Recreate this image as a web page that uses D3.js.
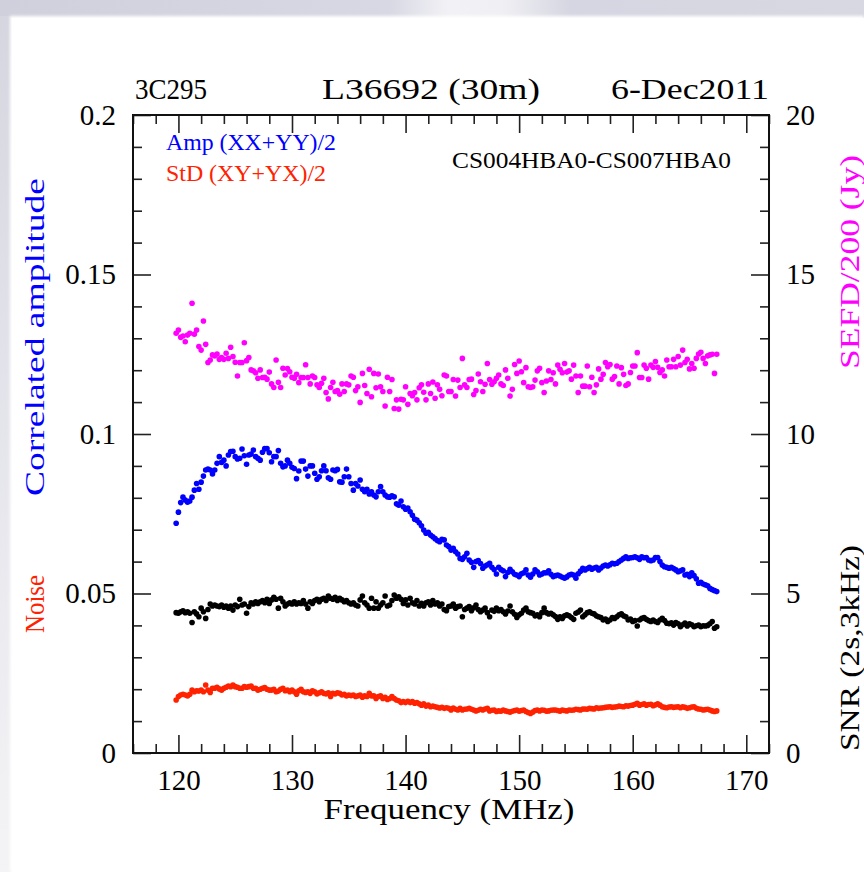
<!DOCTYPE html>
<html>
<head>
<meta charset="utf-8">
<script src="https://cdn.jsdelivr.net/npm/d3@7"></script>
<style>
  body { margin: 0; background: #fff; }
  svg { display: block; }
</style>
</head>
<body>
<svg id="chart" width="864" height="872"></svg>
<script>
// Channel centre frequencies (MHz)
const freqMHz = [
  119.8,120.0,120.2,120.4,120.6,120.8,121.0,121.2,121.4,121.6,
  121.8,122.0,122.2,122.4,122.6,122.8,123.0,123.2,123.4,123.6,
  123.8,124.0,124.2,124.4,124.6,124.8,125.0,125.2,125.4,125.6,
  125.8,126.0,126.2,126.4,126.6,126.8,127.0,127.2,127.4,127.6,
  127.8,128.0,128.2,128.4,128.6,128.8,129.0,129.2,129.4,129.6,
  129.8,130.0,130.2,130.4,130.6,130.8,131.0,131.2,131.4,131.6,
  131.8,132.0,132.2,132.4,132.6,132.8,133.0,133.2,133.4,133.6,
  133.8,134.0,134.2,134.4,134.6,134.8,135.0,135.2,135.4,135.6,
  135.8,136.0,136.2,136.4,136.6,136.8,137.0,137.2,137.4,137.6,
  137.8,138.0,138.2,138.4,138.6,138.8,139.0,139.2,139.4,139.6,
  139.8,140.0,140.2,140.4,140.6,140.8,141.0,141.2,141.4,141.6,
  141.8,142.0,142.2,142.4,142.6,142.8,143.0,143.2,143.4,143.6,
  143.8,144.0,144.2,144.4,144.6,144.8,145.0,145.2,145.4,145.6,
  145.8,146.0,146.2,146.4,146.6,146.8,147.0,147.2,147.4,147.6,
  147.8,148.0,148.2,148.4,148.6,148.8,149.0,149.2,149.4,149.6,
  149.8,150.0,150.2,150.4,150.6,150.8,151.0,151.2,151.4,151.6,
  151.8,152.0,152.2,152.4,152.6,152.8,153.0,153.2,153.4,153.6,
  153.8,154.0,154.2,154.4,154.6,154.8,155.0,155.2,155.4,155.6,
  155.8,156.0,156.2,156.4,156.6,156.8,157.0,157.2,157.4,157.6,
  157.8,158.0,158.2,158.4,158.6,158.8,159.0,159.2,159.4,159.6,
  159.8,160.0,160.2,160.4,160.6,160.8,161.0,161.2,161.4,161.6,
  161.8,162.0,162.2,162.4,162.6,162.8,163.0,163.2,163.4,163.6,
  163.8,164.0,164.2,164.4,164.6,164.8,165.0,165.2,165.4,165.6,
  165.8,166.0,166.2,166.4,166.6,166.8,167.0,167.2,167.4
];

// Correlated amplitude, (XX+YY)/2  (left axis)
const ampXXYY = [
  0.0720,0.0755,0.0785,0.0802,0.0793,0.0786,0.0790,0.0802,0.0824,0.0845,
  0.0827,0.0849,0.0868,0.0887,0.0890,0.0887,0.0875,0.0887,0.0908,0.0929,
  0.0911,0.0918,0.0900,0.0934,0.0945,0.0946,0.0929,0.0922,0.0924,0.0953,
  0.0932,0.0905,0.0934,0.0937,0.0950,0.0929,0.0924,0.0918,0.0943,0.0954,
  0.0954,0.0941,0.0913,0.0929,0.0929,0.0948,0.0908,0.0897,0.0900,0.0918,
  0.0908,0.0896,0.0892,0.0860,0.0884,0.0915,0.0915,0.0890,0.0868,0.0900,
  0.0900,0.0877,0.0858,0.0866,0.0885,0.0900,0.0885,0.0863,0.0858,0.0887,
  0.0885,0.0889,0.0850,0.0849,0.0866,0.0890,0.0866,0.0845,0.0824,0.0845,
  0.0837,0.0856,0.0827,0.0819,0.0827,0.0812,0.0819,0.0809,0.0803,0.0819,
  0.0835,0.0819,0.0809,0.0803,0.0802,0.0806,0.0803,
  0.0781,0.0777,0.0790,0.0772,0.0764,0.0768,0.0756,0.0745,0.0733,0.0730,
  0.0722,0.0712,0.0699,0.0689,0.0692,0.0683,0.0678,0.0672,0.0666,0.0662,
  0.0670,0.0668,0.0652,0.0647,0.0636,0.0642,0.0631,0.0624,0.0610,0.0607,
  0.0615,0.0626,0.0605,0.0598,0.0582,0.0600,0.0603,0.0594,0.0579,0.0586,
  0.0590,0.0595,0.0582,0.0575,0.0561,0.0582,0.0575,0.0571,0.0553,0.0566,
  0.0576,0.0568,0.0560,0.0558,0.0553,0.0562,0.0565,0.0574,0.0558,0.0551,
  0.0561,0.0574,0.0568,0.0558,0.0561,0.0565,0.0565,0.0571,0.0560,0.0553,
  0.0556,0.0558,0.0555,0.0551,0.0548,0.0552,0.0558,0.0560,0.0558,0.0548,
  0.0562,0.0570,0.0579,0.0574,0.0578,0.0582,0.0576,0.0580,0.0582,0.0574,
  0.0580,0.0586,0.0589,0.0586,0.0590,0.0595,0.0593,0.0595,0.0600,0.0605,
  0.0610,0.0615,0.0610,0.0612,0.0613,0.0615,0.0612,0.0607,0.0615,0.0612,
  0.0613,0.0605,0.0603,0.0605,0.0613,0.0613,0.0600,0.0589,0.0584,0.0582,
  0.0579,0.0582,0.0578,0.0574,0.0568,0.0571,0.0574,0.0558,0.0560,0.0553,
  0.0565,0.0556,0.0546,0.0532,0.0535,0.0530,0.0527,0.0524,0.0516,0.0512,
  0.0509,0.0506
];

// Noise: standard deviation of the cross hands, (XY+YX)/2  (left axis)
const stdXYYX = [
  0.0166,0.0177,0.0182,0.0184,0.0182,0.0179,0.0184,0.0197,0.0192,0.0195,
  0.0194,0.0197,0.0192,0.0213,0.0197,0.0190,0.0203,0.0203,0.0206,0.0201,
  0.0197,0.0203,0.0206,0.0210,0.0208,0.0213,0.0208,0.0206,0.0203,0.0203,
  0.0208,0.0206,0.0208,0.0210,0.0203,0.0203,0.0197,0.0200,0.0203,0.0205,
  0.0200,0.0197,0.0197,0.0200,0.0192,0.0194,0.0200,0.0203,0.0195,0.0197,
  0.0192,0.0197,0.0192,0.0184,0.0195,0.0200,0.0192,0.0190,0.0192,0.0187,
  0.0195,0.0192,0.0185,0.0189,0.0192,0.0187,0.0185,0.0189,0.0177,0.0187,
  0.0185,0.0189,0.0187,0.0182,0.0184,0.0179,0.0182,0.0180,0.0182,0.0177,
  0.0179,0.0182,0.0175,0.0179,0.0177,0.0187,0.0179,0.0179,0.0171,0.0177,
  0.0179,0.0171,0.0175,0.0168,0.0171,0.0177,0.0171,0.0166,0.0164,0.0158,
  0.0161,0.0158,0.0162,0.0158,0.0161,0.0156,0.0158,0.0154,0.0150,0.0154,
  0.0147,0.0150,0.0145,0.0147,0.0145,0.0143,0.0141,0.0143,0.0140,0.0142,
  0.0140,0.0135,0.0141,0.0137,0.0135,
  0.0140,0.0135,0.0137,0.0138,0.0140,0.0137,0.0135,0.0132,0.0134,0.0137,
  0.0135,0.0138,0.0140,0.0132,0.0134,0.0135,0.0130,0.0132,0.0131,0.0135,
  0.0132,0.0130,0.0128,0.0131,0.0133,0.0135,0.0131,0.0133,0.0135,0.0130,
  0.0127,0.0124,0.0128,0.0133,0.0135,0.0132,0.0135,0.0134,0.0131,0.0132,
  0.0134,0.0135,0.0135,0.0133,0.0131,0.0135,0.0133,0.0132,0.0135,0.0134,
  0.0135,0.0137,0.0136,0.0135,0.0138,0.0138,0.0137,0.0140,0.0139,0.0138,
  0.0142,0.0140,0.0141,0.0142,0.0143,0.0144,0.0145,0.0143,0.0144,0.0145,
  0.0147,0.0146,0.0145,0.0148,0.0147,0.0149,0.0150,0.0153,0.0156,0.0150,
  0.0152,0.0154,0.0150,0.0152,0.0153,0.0148,0.0151,0.0154,0.0150,0.0145,
  0.0143,0.0142,0.0144,0.0145,0.0143,0.0144,0.0145,0.0142,0.0145,0.0143,
  0.0140,0.0142,0.0144,0.0145,0.0140,0.0138,0.0137,0.0135,0.0136,0.0137,
  0.0135,0.0132,0.0130,0.0132
];

// SNR per 2 s, 3 kHz channel  (right axis)
const snr = [
  4.40,4.38,4.43,4.46,4.40,4.43,4.38,4.09,4.43,4.36,
  4.27,4.54,4.43,4.22,4.50,4.67,4.61,4.64,4.61,4.59,
  4.64,4.57,4.61,4.54,4.61,4.48,4.64,4.59,4.82,4.64,
  4.67,4.38,4.59,4.71,4.67,4.74,4.69,4.74,4.78,4.71,
  4.82,4.69,4.80,4.88,4.82,4.54,4.85,4.74,4.61,4.67,
  4.71,4.67,4.74,4.67,4.71,4.69,4.78,4.67,4.54,4.74,
  4.69,4.78,4.82,4.74,4.82,4.85,4.78,4.92,4.85,4.82,
  4.88,4.78,4.85,4.80,4.74,4.78,4.71,4.67,4.71,4.64,
  4.61,4.80,4.92,4.71,4.64,4.54,4.85,4.54,4.74,4.54,
  4.64,4.71,4.92,4.61,4.64,4.78,4.95,4.85,4.90,4.82,
  4.69,4.80,4.64,4.85,4.71,4.67,4.78,4.61,4.69,4.61,
  4.71,4.74,4.64,4.78,4.67,4.71,4.61,4.67,4.50,4.46,
  4.59,4.61,4.67,4.54,4.59,
  4.61,4.27,4.50,4.54,4.59,4.46,4.55,4.64,4.50,4.43,
  4.48,4.54,4.40,4.27,4.48,4.44,4.54,4.46,4.50,4.43,
  4.36,4.45,4.61,4.43,4.35,4.25,4.33,4.38,4.48,4.54,
  4.43,4.40,4.38,4.30,4.33,4.27,4.40,4.54,4.40,4.36,
  4.38,4.33,4.28,4.19,4.27,4.22,4.30,4.33,4.30,4.25,
  4.19,4.38,4.42,4.48,4.27,4.33,4.40,4.43,4.38,4.36,
  4.30,4.27,4.25,4.17,4.20,4.12,4.17,4.25,4.22,4.27,
  4.33,4.36,4.30,4.27,4.17,4.20,4.12,4.15,3.98,4.17,
  4.22,4.25,4.19,4.15,4.12,4.17,4.12,4.09,4.17,4.22,
  4.15,4.07,4.05,4.08,4.01,4.09,4.05,3.96,4.02,4.07,
  3.98,4.05,4.02,3.96,3.99,4.01,3.96,3.99,3.98,4.00,
  4.05,4.12,3.91,3.96
];

// System equivalent flux density / 200, in Jy  (right axis)
const sefd200 = [
  13.16,13.26,13.03,13.07,12.89,13.10,13.16,14.10,13.13,13.26,
  12.74,12.63,13.54,12.81,12.24,12.32,12.48,12.45,12.51,12.34,
  12.40,12.34,12.53,12.37,12.72,12.43,12.25,11.82,12.24,12.24,
  12.86,12.30,12.40,12.01,11.98,11.92,11.75,12.01,11.77,11.78,
  11.72,11.94,11.57,11.46,12.32,11.62,11.46,12.06,11.85,12.05,
  11.95,11.78,11.75,11.87,11.61,11.77,11.77,12.17,11.77,11.57,
  11.82,11.77,11.54,11.46,11.59,11.75,11.30,11.10,11.46,11.62,
  11.33,11.36,11.25,11.57,11.33,11.57,11.54,11.82,11.78,11.36,
  11.48,10.99,11.90,11.52,11.27,12.03,11.17,11.90,11.45,11.88,
  11.48,11.33,10.88,11.78,11.33,11.71,10.80,11.07,10.78,11.09,
  11.07,11.48,10.93,11.27,11.20,11.30,11.07,11.45,11.54,11.31,
  11.07,11.57,11.27,11.63,11.12,11.54,11.40,11.20,11.85,11.82,
  11.33,11.33,11.71,11.19,11.69,
  11.46,12.37,11.54,11.46,11.71,11.72,11.24,11.36,11.88,11.64,
  11.33,11.56,12.21,11.71,11.56,11.64,11.75,11.85,11.57,11.52,
  12.01,11.75,11.19,11.40,12.18,11.90,12.29,11.95,11.61,12.08,
  11.48,11.46,11.48,11.69,11.98,12.06,11.61,11.30,11.66,11.98,
  11.71,11.92,11.57,12.16,12.03,11.92,12.21,11.94,11.98,11.72,
  12.16,11.82,11.30,11.82,11.50,11.50,12.13,11.48,11.78,11.30,
  11.54,12.04,11.72,11.87,12.24,12.11,12.18,11.72,11.80,12.13,
  11.57,12.08,11.87,11.52,11.57,11.93,12.13,12.13,12.55,11.77,
  11.77,12.16,12.06,11.72,12.16,12.09,12.27,12.09,11.93,12.01,
  11.82,12.32,12.11,12.11,12.34,12.11,12.43,12.16,12.63,12.24,
  12.34,12.04,12.21,12.06,12.37,12.51,12.56,12.37,12.21,12.45,
  12.48,12.50,11.90,12.50
];

// Axis ticks and labels
const xMajorTicks = [120, 130, 140, 150, 160, 170];
const yLeftTicks = [0, 0.05, 0.1, 0.15, 0.2];
const yLeftTickLabels = ["0", "0.05", "0.1", "0.15", "0.2"];
const yRightTicks = [0, 5, 10, 15, 20];
const yRightTickLabels = ["0", "5", "10", "15", "20"];

const COLORS = { amp: "#0000ff", noise: "#ff2200", snr: "#000000", sefd: "#ff00ff" };
const SERIF = "'Liberation Serif', 'DejaVu Serif', serif";

const W = 864, H = 872;
const plot = { left: 133, right: 769, top: 115, bottom: 753 };

const svg = d3.select("#chart");
const defs = svg.append("defs");

// Slide backdrop behind the white plot panel
const bgGrad = defs.append("linearGradient").attr("id", "bgGrad")
  .attr("x1", 0).attr("y1", 0).attr("x2", 1).attr("y2", 0);
[["0", "#d0d0dc"], ["0.45", "#d8d8e4"], ["0.52", "#f2f2f6"], ["0.58", "#f0f0f4"], ["0.66", "#d6d6e2"], ["1", "#d8d8e2"]]
  .forEach(([o, c]) => bgGrad.append("stop").attr("offset", o).attr("stop-color", c));
const sideGrad = defs.append("linearGradient").attr("id", "sideGrad")
  .attr("x1", 0).attr("y1", 0).attr("x2", 0).attr("y2", 1);
[["0", "#d6d6e0"], ["0.4", "#e2e2ea"], ["1", "#f4f4f6"]]
  .forEach(([o, c]) => sideGrad.append("stop").attr("offset", o).attr("stop-color", c));
defs.append("filter").attr("id", "soft").append("feGaussianBlur").attr("stdDeviation", 1.5);

svg.append("rect").attr("width", W).attr("height", H).attr("fill", "url(#bgGrad)");
svg.append("rect").attr("x", 0).attr("y", 16).attr("width", 12).attr("height", H - 16).attr("fill", "url(#sideGrad)");
svg.append("rect").attr("x", 10).attr("y", 16).attr("width", W - 10).attr("height", H - 16)
  .attr("fill", "#ffffff").attr("filter", "url(#soft)");
svg.append("rect").attr("x", 12).attr("y", 18).attr("width", W - 12).attr("height", H - 18).attr("fill", "#ffffff");

// Scales
const x = d3.scaleLinear().domain([116, 172]).range([plot.left, plot.right]);
const yL = d3.scaleLinear().domain([0, 0.2]).range([plot.bottom, plot.top]);
const yR = d3.scaleLinear().domain([0, 20]).range([plot.bottom, plot.top]);

const minorX = d3.range(116, 173, 2).filter(v => v % 10 !== 0);
const minorYL = d3.range(0, 21).filter(i => i % 5 !== 0).map(i => i / 100);
const minorYR = d3.range(0, 21).filter(i => i % 5 !== 0);

const MAJOR = 18, MINOR = 9;
const axes = svg.append("g").attr("class", "axes");

function styleAxis(g) {
  g.select(".domain").remove();
  g.selectAll(".tick line").attr("stroke", "#222").attr("stroke-width", 1.6);
  g.selectAll(".tick text").attr("fill", "#000").style("font-family", SERIF).style("font-size", "29px");
}

// Bottom / top
axes.append("g").attr("transform", `translate(0,${plot.bottom})`)
  .call(d3.axisBottom(x).tickValues(xMajorTicks).tickSize(-MAJOR).tickPadding(16).tickFormat(d3.format("d")))
  .call(styleAxis);
axes.append("g").attr("transform", `translate(0,${plot.bottom})`)
  .call(d3.axisBottom(x).tickValues(minorX).tickSize(-MINOR).tickFormat(""))
  .call(styleAxis);
axes.append("g").attr("transform", `translate(0,${plot.top})`)
  .call(d3.axisTop(x).tickValues(xMajorTicks).tickSize(-MAJOR).tickFormat(""))
  .call(styleAxis);
axes.append("g").attr("transform", `translate(0,${plot.top})`)
  .call(d3.axisTop(x).tickValues(minorX).tickSize(-MINOR).tickFormat(""))
  .call(styleAxis);

// Left / right
axes.append("g").attr("transform", `translate(${plot.left},0)`)
  .call(d3.axisLeft(yL).tickValues(yLeftTicks).tickSize(-MAJOR).tickPadding(17)
    .tickFormat((d, i) => yLeftTickLabels[i]))
  .call(styleAxis);
axes.append("g").attr("transform", `translate(${plot.left},0)`)
  .call(d3.axisLeft(yL).tickValues(minorYL).tickSize(-MINOR).tickFormat(""))
  .call(styleAxis);
axes.append("g").attr("transform", `translate(${plot.right},0)`)
  .call(d3.axisRight(yR).tickValues(yRightTicks).tickSize(-MAJOR).tickPadding(17)
    .tickFormat((d, i) => yRightTickLabels[i]))
  .call(styleAxis);
axes.append("g").attr("transform", `translate(${plot.right},0)`)
  .call(d3.axisRight(yR).tickValues(minorYR).tickSize(-MINOR).tickFormat(""))
  .call(styleAxis);

// Frame
svg.append("rect")
  .attr("x", plot.left).attr("y", plot.top)
  .attr("width", plot.right - plot.left).attr("height", plot.bottom - plot.top)
  .attr("fill", "none").attr("stroke", "#111").attr("stroke-width", 2);

// Point series
const series = [
  { values: sefd200, y: yR, color: COLORS.sefd },
  { values: ampXXYY, y: yL, color: COLORS.amp },
  { values: snr, y: yR, color: COLORS.snr },
  { values: stdXYYX, y: yL, color: COLORS.noise }
];
const dots = svg.append("g").attr("class", "points");
series.forEach(s => {
  const pts = freqMHz.map((f, i) => [f, s.values[i]]).filter(d => d[1] != null);
  dots.append("g").selectAll("circle").data(pts).join("circle")
    .attr("cx", d => x(d[0])).attr("cy", d => s.y(d[1]))
    .attr("r", 2.8).attr("fill", s.color);
});

// Text helper
function label(txt, opts) {
  const t = svg.append("text")
    .attr("x", opts.x).attr("y", opts.y)
    .attr("fill", opts.color || "#000")
    .attr("text-anchor", opts.anchor || "start")
    .style("font-family", SERIF)
    .style("font-size", (opts.size || 30) + "px")
    .text(txt);
  if (opts.len) t.attr("textLength", opts.len).attr("lengthAdjust", "spacingAndGlyphs");
  if (opts.rotate) t.attr("transform", `rotate(${opts.rotate},${opts.x},${opts.y})`);
  return t;
}

// Header line
label("3C295", { x: 135, y: 99, size: 29, len: 72 });
label("L36692 (30m)", { x: 322, y: 99, size: 29, len: 218 });
label("6-Dec2011", { x: 769, y: 99, size: 29, len: 158, anchor: "end" });

// In-plot legend and baseline name
label("Amp (XX+YY)/2", { x: 166, y: 150, size: 23, len: 170, color: COLORS.amp });
label("StD (XY+YX)/2", { x: 166, y: 181, size: 23, len: 160, color: COLORS.noise });
label("CS004HBA0-CS007HBA0", { x: 452, y: 168, size: 23, len: 279 });

// Axis titles
label("Frequency (MHz)", { x: 449, y: 819, size: 29, len: 251, anchor: "middle" });
label("Correlated amplitude", { x: 44, y: 337, size: 27, len: 318, anchor: "middle", rotate: -90, color: COLORS.amp });
label("Noise", { x: 44, y: 604, size: 27, len: 58, anchor: "middle", rotate: -90, color: COLORS.noise });
label("SEFD/200 (Jy)", { x: 859, y: 262, size: 27, len: 214, anchor: "middle", rotate: -90, color: COLORS.sefd });
label("SNR (2s,3kHz)", { x: 859, y: 648, size: 27, len: 206, anchor: "middle", rotate: -90, color: COLORS.snr });
</script>
</body>
</html>
